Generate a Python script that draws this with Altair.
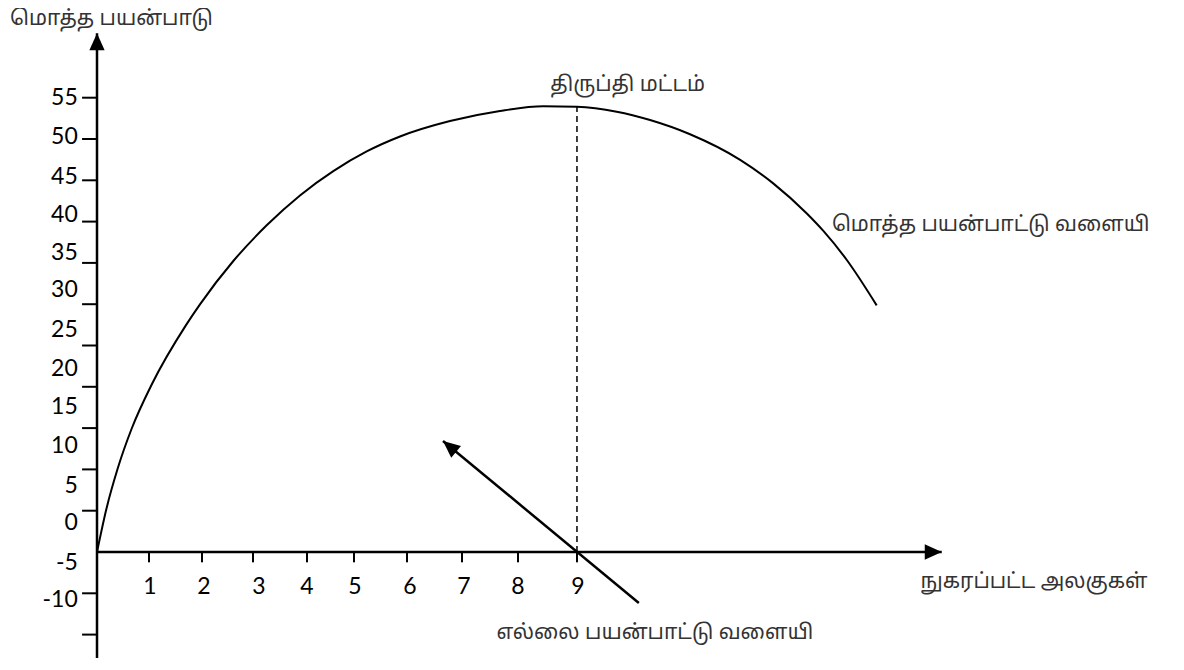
import math
import altair as alt
import pandas as pd

# ---------------- data ----------------
# total utility curve (units consumed, total utility)
curve_x = [0, 0.182, 0.388, 0.651, 1.026, 1.663, 1.931, 2.556, 3.182, 3.806, 4.431,
           5.057, 5.682, 6.619, 7.556, 8.369, 8.995, 9.745, 10.37, 11.12, 12.06,
           12.68, 13.31, 13.62, 14.06, 14.62]
curve_y = [0, 5.37, 10.11, 14.95, 20.28, 27.41, 29.98, 35.23, 39.55, 43.17, 46.11,
           48.49, 50.30, 52.17, 53.39, 53.96, 53.90, 53.31, 52.30, 50.58, 47.48,
           44.63, 40.98, 38.87, 35.35, 29.86]

# satiation level (dashed line)
sat_x = [9.0]
sat_top = [53.9]

# y axis ticks and (hand-placed) labels
y_tick_values = [55, 50, 45, 40, 35, 30, 25, 20, 15, 10, 5, -5, -10]
y_label_text = ["55", "50", "45", "40", "35", "30", "25", "20", "15", "10", "5", "0", "-5", "-10"]
y_label_pos = [54.96, 50.24, 45.40, 40.80, 36.20, 31.72, 26.88, 22.15, 17.55, 12.83,
               7.99, 3.51, -1.33, -5.81]

# x axis ticks and labels
x_tick_pos = [0.975, 1.969, 2.925, 3.938, 4.819, 5.813, 6.844, 7.894, 9.0]
x_label_text = ["1", "2", "3", "4", "5", "6", "7", "8", "9"]
x_label_pos = [0.994, 2.006, 3.038, 3.938, 4.838, 5.869, 6.881, 7.894, 9.019]

# marginal utility pointer arrow (tail -> tip)
mu_x = [10.16, 6.488]
mu_y = [-6.17, 13.44]

# axis extents
y_axis_range = [-12.9, 62.8]
x_axis_range = [0, 15.84]

# annotation texts
ann_text = ["மொத்த பயன்பாடு", "திருப்தி மட்டம்", "மொத்த பயன்பாட்டு வளையி",
            "எல்லை பயன்பாட்டு வளையி", "நுகரப்பட்ட அலகுகள்"]
ann_x = [-1.63, 9.95, 13.78, 10.46, 17.57]
ann_y = [64.5, 56.5, 39.6, -9.8, -3.6]
ann_align = ["left", "center", "left", "center", "center"]

# ---------------- scales ----------------
W, H = 1160, 650
X0_PX, SX = 89, 53.33      # x=0 at this chart pixel, px per unit
Y0_PX, SY = 544, 8.26      # y=0 at this chart pixel, px per unit
xs = alt.Scale(domain=[(0 - X0_PX) / SX, (W - X0_PX) / SX], nice=False, zero=False)
ys = alt.Scale(domain=[(Y0_PX - H) / SY, Y0_PX / SY], nice=False, zero=False)

def X(f, **kw):
    return alt.X(f, type="quantitative", scale=xs, axis=None, **kw)

def Y(f, **kw):
    return alt.Y(f, type="quantitative", scale=ys, axis=None, **kw)

curve_df = pd.DataFrame({"x": curve_x, "y": curve_y})
curve = alt.Chart(curve_df).mark_line(color="black", strokeWidth=2, interpolate="monotone").encode(
    x=X("x"), y=Y("y"))

axes_df = pd.DataFrame({
    "x": [0, x_axis_range[0]], "x2": [0, x_axis_range[1]],
    "y": [y_axis_range[0], 0], "y2": [y_axis_range[1], 0]})
axes = alt.Chart(axes_df).mark_rule(color="black", strokeWidth=2.5).encode(
    x=X("x"), x2="x2", y=Y("y"), y2="y2")

dx = (mu_x[1] - mu_x[0]) * SX
dy = -(mu_y[1] - mu_y[0]) * SY
mu_angle = math.degrees(math.atan2(dx, -dy)) % 360
heads_df = pd.DataFrame({
    "x": [0, x_axis_range[1], mu_x[1]],
    "y": [y_axis_range[1], 0, mu_y[1]],
    "a": [0, 90, mu_angle]})
heads = alt.Chart(heads_df).mark_point(
    shape="M0,0L-0.45,1L0.45,1Z", filled=True, color="black", opacity=1, size=1156).encode(
    x=X("x"), y=Y("y"), angle=alt.Angle("a:Q", scale=None))

sat_df = pd.DataFrame({"x": sat_x, "y": [0], "y2": sat_top})
sat = alt.Chart(sat_df).mark_rule(color="black", strokeWidth=1.5, strokeDash=[6, 4]).encode(
    x=X("x"), y=Y("y"), y2="y2")

mu_df = pd.DataFrame({"x": [mu_x[0]], "x2": [mu_x[1]], "y": [mu_y[0]], "y2": [mu_y[1]]})
mu = alt.Chart(mu_df).mark_rule(color="black", strokeWidth=2.5).encode(
    x=X("x"), x2="x2", y=Y("y"), y2="y2")

ytick_df = pd.DataFrame({"y": y_tick_values, "x": -0.28, "x2": 0})
yticks = alt.Chart(ytick_df).mark_rule(color="black", strokeWidth=2).encode(
    x=X("x"), x2="x2", y=Y("y"))

xtick_df = pd.DataFrame({"x": x_tick_pos, "y": 0, "y2": -1.25})
xticks = alt.Chart(xtick_df).mark_rule(color="black", strokeWidth=2).encode(
    x=X("x"), y=Y("y"), y2="y2")

ylab_df = pd.DataFrame({"t": y_label_text, "y": y_label_pos, "x": -0.36})
ylabels = alt.Chart(ylab_df).mark_text(
    align="right", baseline="middle", fontSize=23, font="Lato", color="black").encode(
    x=X("x"), y=Y("y"), text="t:N")

xlab_df = pd.DataFrame({"t": x_label_text, "x": x_label_pos, "y": -4.24})
xlabels = alt.Chart(xlab_df).mark_text(
    align="center", baseline="middle", fontSize=23, font="Lato", color="black").encode(
    x=X("x"), y=Y("y"), text="t:N")

ann_layers = []
for t, ax, ay, al in zip(ann_text, ann_x, ann_y, ann_align):
    d = pd.DataFrame({"t": [t], "x": [ax], "y": [ay]})
    ann_layers.append(alt.Chart(d).mark_text(
        align=al, baseline="middle", fontSize=21,
        font="Noto Sans Tamil, Lohit Tamil, Noto Sans", fontWeight="normal",
        color="#333").encode(
        x=X("x"), y=Y("y"), text="t:N"))

chart = alt.layer(curve, sat, axes, mu, heads, yticks, xticks, ylabels, xlabels, *ann_layers).properties(
    width=W, height=H, autosize=alt.AutoSizeParams(type="none"), padding=0
).configure_view(stroke=None)

chart.save("out.html", embed_options={"renderer": "svg", "actions": False})
